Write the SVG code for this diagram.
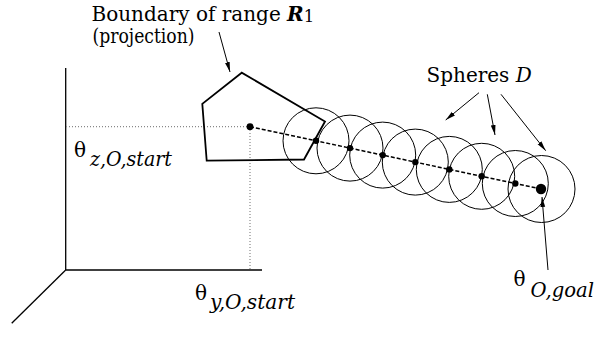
<svg xmlns="http://www.w3.org/2000/svg" width="595" height="337" viewBox="0 0 595 337">
<style>
  text{font-family:'DejaVu Serif',serif;font-size:20px;fill:#000}
  .it{font-style:italic}
  .ax{stroke:#000;stroke-width:1.3;fill:none}
  .dot{stroke:#888;stroke-width:1.2;stroke-dasharray:1 2;fill:none}
  .sph{stroke:#000;stroke-width:1;fill:none}
  .ptr{stroke:#000;stroke-width:1;fill:none;marker-end:url(#ah)}
</style>
<defs>
  <marker id="ah" viewBox="0 0 10 6" refX="10" refY="3" markerWidth="10" markerHeight="6" markerUnits="userSpaceOnUse" orient="auto">
    <path d="M0,0.6 L10,3 L0,5.4 Z" fill="#000"/>
  </marker>
</defs>
<g id="axes">
  <line class="ax" x1="65.7" y1="68" x2="65.7" y2="270"/>
  <line class="ax" x1="65.7" y1="270" x2="262" y2="270"/>
  <line class="ax" x1="65.7" y1="270" x2="11.7" y2="323.3"/>
  <line class="dot" x1="66" y1="126.7" x2="247" y2="126.7"/>
  <line class="dot" x1="250" y1="130" x2="250" y2="269"/>
</g>
<g id="range-boundary">
  <polygon points="241.7,72.7 202.3,103.8 206.7,160.7 304,159.5 325,121.5" fill="none" stroke="#000" stroke-width="1.8" stroke-linejoin="miter"/>
</g>
<g id="spheres">
  <circle class="sph" cx="316" cy="140.8" r="33"/>
  <circle class="sph" cx="350" cy="148.1" r="33"/>
  <circle class="sph" cx="382.7" cy="155.1" r="33"/>
  <circle class="sph" cx="415.3" cy="162.1" r="33"/>
  <circle class="sph" cx="449.3" cy="169.4" r="33"/>
  <circle class="sph" cx="481.7" cy="176.3" r="33"/>
  <circle class="sph" cx="515.3" cy="183.5" r="33"/>
  <circle class="sph" cx="541.5" cy="189" r="33.5"/>
</g>
<g id="path">
  <line x1="250" y1="126.7" x2="541" y2="189" stroke="#000" stroke-width="1.5" stroke-dasharray="4 2"/>
  <circle cx="250" cy="126.7" r="3.4" fill="#000"/>
  <circle cx="316" cy="140.8" r="3.2" fill="#000"/>
  <circle cx="350" cy="148.1" r="3.2" fill="#000"/>
  <circle cx="382.7" cy="155.1" r="3.2" fill="#000"/>
  <circle cx="415.3" cy="162.1" r="3.2" fill="#000"/>
  <circle cx="449.3" cy="169.4" r="3.2" fill="#000"/>
  <circle cx="481.7" cy="176.3" r="3.2" fill="#000"/>
  <circle cx="515.3" cy="183.5" r="3.2" fill="#000"/>
  <circle cx="541" cy="189" r="5.2" fill="#000"/>
</g>
<g id="connectors">
  <line class="ptr" x1="219" y1="32" x2="230" y2="72"/>
  <line class="ptr" x1="479" y1="92.7" x2="445.7" y2="120"/>
  <line class="ptr" x1="487.3" y1="94.3" x2="495" y2="135"/>
  <line class="ptr" x1="501" y1="94.3" x2="545.7" y2="150.7"/>
  <line class="ptr" x1="548" y1="270" x2="542" y2="197"/>
</g>
<g id="label-boundary">
  <text x="91.5" y="20.7" font-size="19">Boundary of range <tspan font-weight="bold" font-style="italic">R</tspan><tspan font-size="16.5" dy="1.5">1</tspan></text>
  <text x="92.5" y="42.5" textLength="102" lengthAdjust="spacingAndGlyphs">(projection)</text>
</g>
<g id="label-spheres">
  <text x="426.5" y="82.3" font-size="18.5">Spheres <tspan class="it">D</tspan></text>
</g>
<g id="label-z">
  <text x="74" y="157">θ</text>
  <text class="it" x="90" y="165.5" textLength="82" lengthAdjust="spacingAndGlyphs">z,O,start</text>
</g>
<g id="label-y">
  <text x="195" y="300">θ</text>
  <text class="it" x="210" y="308.5" textLength="85" lengthAdjust="spacingAndGlyphs">y,O,start</text>
</g>
<g id="label-goal">
  <text x="513.5" y="286">θ</text>
  <text class="it" x="530.5" y="296.5" textLength="63.5" lengthAdjust="spacingAndGlyphs">O,goal</text>
</g>
</svg>
